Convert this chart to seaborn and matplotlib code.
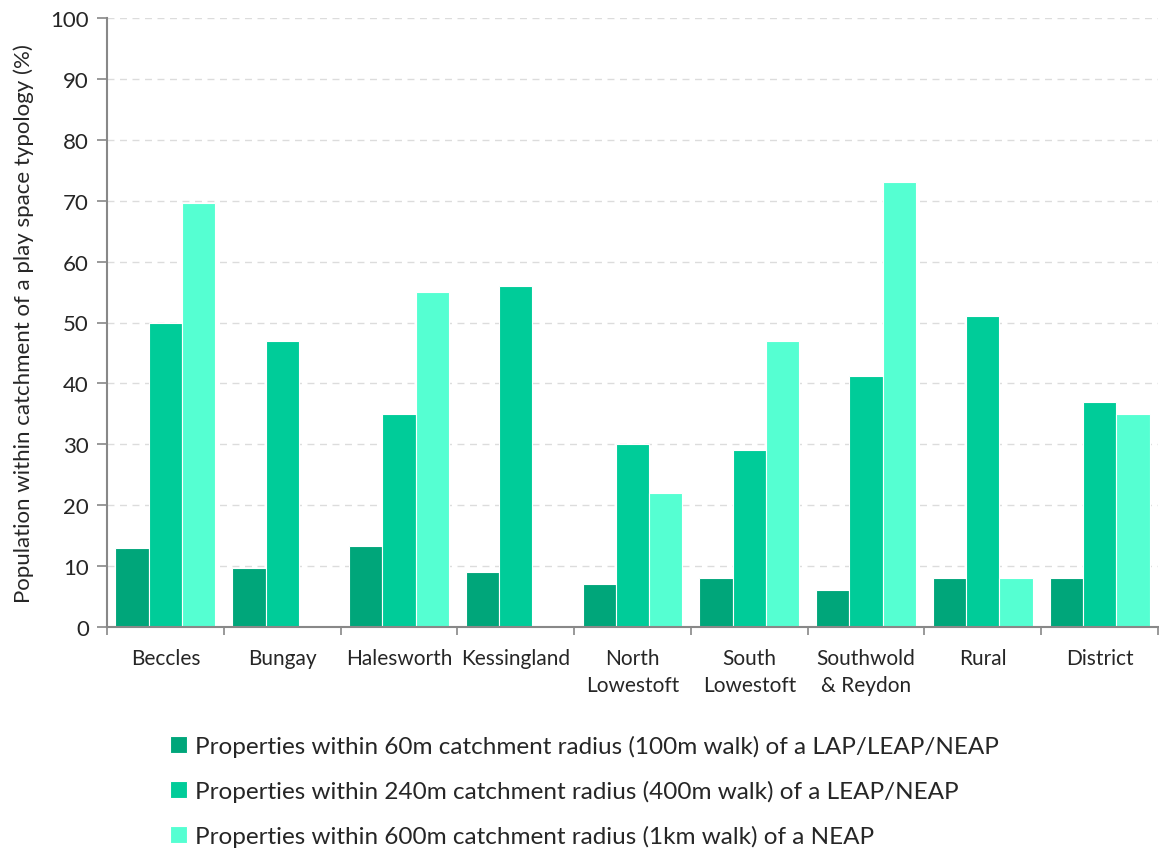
import pandas as pd
import matplotlib.pyplot as plt
import seaborn as sns

areas = ['Beccles', 'Bungay', 'Halesworth', 'Kessingland', 'North\nLowestoft',
         'South\nLowestoft', 'Southwold\n& Reydon', 'Rural', 'District']
within_60m = [13, 9.7, 13.3, 9, 7, 8, 6, 8, 8]
within_240m = [50, 47, 35, 56, 30, 29, 41.2, 51, 37]
within_600m = [69.7, 0, 55, 0, 22, 47, 73, 8, 35]

series_names = [
    'Properties within 60m catchment radius (100m walk) of a LAP/LEAP/NEAP',
    'Properties within 240m catchment radius (400m walk) of a LEAP/NEAP',
    'Properties within 600m catchment radius (1km walk) of a NEAP',
]
colors = ['#00A67A', '#00CC99', '#55FFD2']

df = pd.DataFrame({
    'Area': areas * 3,
    'Value': within_60m + within_240m + within_600m,
    'Series': [s for s in series_names for _ in areas],
})

sns.set_theme(style="white")
plt.rcParams['font.family'] = ['Lato', 'DejaVu Sans']

fig = plt.figure(figsize=(11.59, 8.53), dpi=100)
ax = fig.add_axes([107 / 1159, 1 - 628 / 853, (1158 - 107) / 1159, (628 - 19) / 853])

sns.barplot(data=df, x='Area', y='Value', hue='Series', palette=colors,
            width=0.856, edgecolor='white', linewidth=0.8, saturation=1, ax=ax)

ax.set_xlim(-0.5, len(areas) - 0.5)
ax.set_ylim(0, 100)
ax.set_yticks(range(0, 101, 10))
ax.yaxis.grid(True, linestyle=(0, (5, 4)), color='#dcdcdc', linewidth=1)
ax.set_axisbelow(True)

for side in ['top', 'right']:
    ax.spines[side].set_visible(False)
for side in ['left', 'bottom']:
    ax.spines[side].set_color('#888888')
    ax.spines[side].set_linewidth(1.5)

ax.tick_params(axis='y', which='major', direction='out', length=7, width=1.2,
               color='#888888', labelsize=16, pad=6, left=True)
ax.set_xticks(range(len(areas)))
ax.set_xticklabels(areas, fontsize=15, linespacing=1.45, va='top')
ax.tick_params(axis='x', which='major', length=0, pad=15)
ax.set_xticks([i + 0.5 for i in range(-1, len(areas))], minor=True)
ax.tick_params(axis='x', which='minor', direction='out', length=6, width=1.2,
               color='#888888', bottom=True)

ax.set_xlabel('')
ax.set_ylabel('Population within catchment of a play space typology (%)', fontsize=16, labelpad=12)

handles, labels = ax.get_legend_handles_labels()
ax.legend(handles, labels, loc='upper left', bbox_to_anchor=(148 / 1159, 1 - 714 / 853),
          bbox_transform=fig.transFigure, frameon=False, fontsize=17.5,
          handlelength=0.7, handleheight=0.7, handletextpad=0.35, labelspacing=0.95)

plt.savefig('out.png', dpi=100)
